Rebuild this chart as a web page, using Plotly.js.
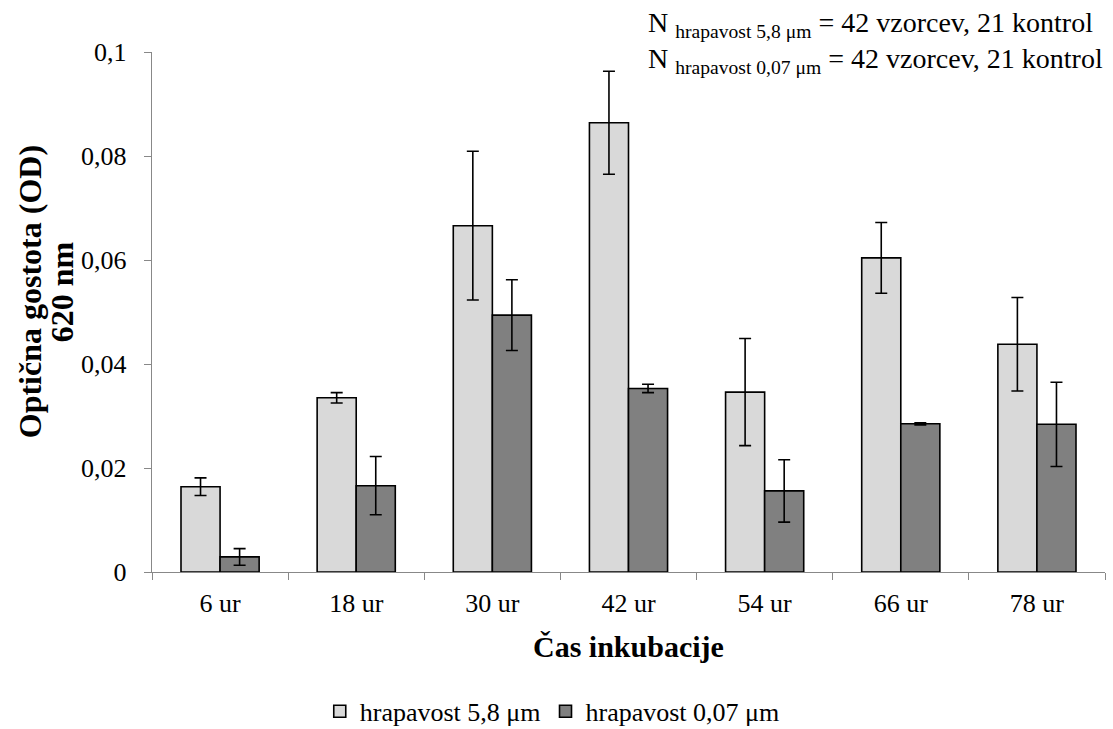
<!DOCTYPE html>
<html>
<head>
<meta charset="utf-8">
<script src="https://cdn.plot.ly/plotly-3.0.1.min.js"></script>
<style>html,body{margin:0;padding:0;background:#fff;}#chart{width:1113px;height:729px;}</style>
</head>
<body>
<div id="chart"></div>
<script>
const categories = ["6 ur", "18 ur", "30 ur", "42 ur", "54 ur", "66 ur", "78 ur"];
const seriesNames = ["hrapavost 5,8 μm", "hrapavost 0,07 μm"];
const rough58 = [0.0164, 0.0335, 0.0666, 0.0864, 0.0346, 0.0604, 0.0438];
const rough58Err = [0.0017, 0.0010, 0.0143, 0.0099, 0.0103, 0.0068, 0.0090];
const rough007 = [0.0029, 0.0166, 0.0494, 0.0353, 0.0156, 0.0285, 0.0284];
const rough007Err = [0.0016, 0.0056, 0.0068, 0.0008, 0.0060, 0.0002, 0.0081];
const yTicks = [0, 0.02, 0.04, 0.06, 0.08, 0.1];
const yTickText = ["0", "0,02", "0,04", "0,06", "0,08", "0,1"];

const font = "'Liberation Serif', 'Times New Roman', serif";
const errStyle = {type: "data", visible: true, color: "#000", thickness: 1.6, width: 6};

const traces = [
  {type: "bar", name: seriesNames[0], x: categories, y: rough58,
   error_y: Object.assign({array: rough58Err}, errStyle),
   marker: {color: "#d9d9d9", line: {color: "#000", width: 1.6}}},
  {type: "bar", name: seriesNames[1], x: categories, y: rough007,
   error_y: Object.assign({array: rough007Err}, errStyle),
   marker: {color: "#808080", line: {color: "#000", width: 1.6}}}
];

const layout = {
  width: 1113, height: 729,
  margin: {l: 152, r: 8, t: 52, b: 157, autoexpand: false},
  paper_bgcolor: "#fff", plot_bgcolor: "#fff",
  font: {family: font, color: "#000", size: 26},
  barmode: "group", bargap: 0.426, bargroupgap: 0,
  showlegend: true,
  legend: {orientation: "h", x: 0.42, xanchor: "center", y: -0.268, yanchor: "middle",
           font: {family: font, size: 26}, traceorder: "normal", itemwidth: 30},
  xaxis: {type: "category", showline: true, linecolor: "#888", linewidth: 1.3,
          ticks: "outside", tickson: "boundaries", ticklen: 7, tickcolor: "#888", ticklabelstandoff: 7,
          tickfont: {family: font, size: 26}, showgrid: false, zeroline: false, fixedrange: true},
  yaxis: {range: [0, 0.1], tickvals: yTicks, ticktext: yTickText,
          showline: true, linecolor: "#888", linewidth: 1.3,
          ticks: "outside", ticklen: 7, tickcolor: "#888", ticklabelstandoff: 12,
          tickfont: {family: font, size: 26}, showgrid: false, zeroline: false},
  annotations: [
    {xref: "paper", yref: "paper", x: -0.128, y: 0.538, xanchor: "center", yanchor: "middle",
     textangle: -90, showarrow: false, text: "<b>Optična gostota (OD)</b>",
     font: {family: font, size: 32}},
    {xref: "paper", yref: "paper", x: -0.0944, y: 0.538, xanchor: "center", yanchor: "middle",
     textangle: -90, showarrow: false, text: "<b>620 nm</b>",
     font: {family: font, size: 32}},
    {xref: "paper", yref: "paper", x: 0.5, y: -0.144, xanchor: "center", yanchor: "middle",
     showarrow: false, text: "<b>Čas inkubacije</b>", font: {family: font, size: 30}},
    {xref: "paper", yref: "paper", x: 1.0, y: 1.0, xanchor: "right", yanchor: "top", yshift: 47,
     showarrow: false, align: "left",
     text: "N <sub>hrapavost 5,8 μm</sub> = 42 vzorcev, 21 kontrol<br>N <sub>hrapavost 0,07 μm</sub> = 42 vzorcev, 21 kontrol",
     font: {family: font, size: 28}}
  ]
};

Plotly.newPlot("chart", traces, layout, {displayModeBar: false, staticPlot: true});
</script>
</body>
</html>
